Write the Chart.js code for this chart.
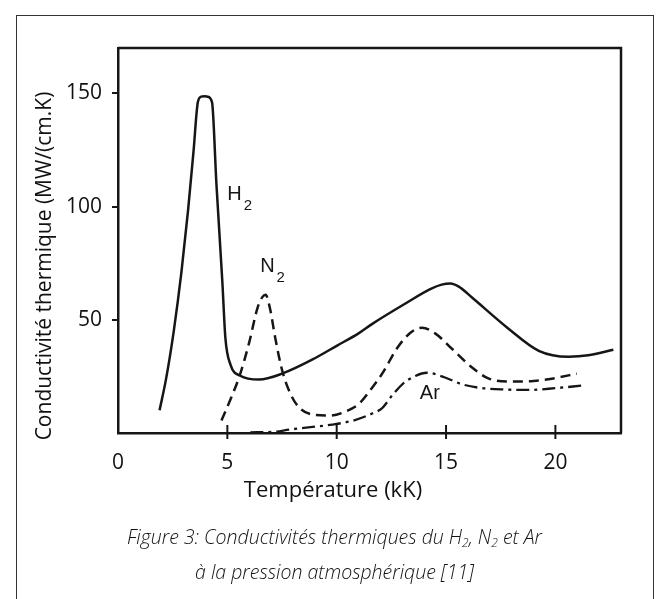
<!DOCTYPE html>
<html>
<head>
<meta charset="utf-8">
<script src="https://cdn.jsdelivr.net/npm/chart.js@4.4.1/dist/chart.umd.min.js"></script>
<style>
  body { margin: 0; background: #fff; }
  #cadre { position: absolute; left: 16px; top: 15px; width: 636px; height: 640px; border: 1px solid #333; }
  #graphe { position: absolute; left: 0; top: 0; }
  #legende { position: absolute; left: 16px; width: 637px; top: 519px; text-align: center;
    font-family: "Open Sans", sans-serif; font-style: italic; font-weight: 300; font-size: 19.5px;
    line-height: 35px; color: #111; }
  #legende sub { font-size: 12px; vertical-align: -3px; line-height: 0; }
</style>
</head>
<body>
<div id="cadre"></div>
<canvas id="graphe" width="658" height="599"></canvas>
<div id="legende">Figure 3: Conductivités thermiques du H<sub>2</sub>, N<sub>2</sub> et Ar<br>à la pression atmosphérique [11]</div>

<script>
// Temperatures (kK) et conductivites (MW/(cm.K))
var h2Temp = [1.9, 2.2, 2.55, 2.9, 3.2, 3.45, 3.65, 3.8, 3.95, 4.1, 4.3, 4.5, 4.77, 4.91, 5.15, 5.59, 6.45, 7.5, 9, 10, 11, 11.63, 13.2, 14.3, 14.8, 15.2, 15.6, 16.2, 17.8, 19.24, 20.6, 21.5, 22.65];
var h2Cond = [10, 24, 45, 71, 98, 124, 146, 148.5, 148.7, 148.5, 146, 110, 67, 42, 30, 25.3, 23.6, 26.2, 33, 38.5, 44, 48.2, 57.5, 63.6, 65.5, 66, 64.5, 59.7, 46.5, 36.3, 33.7, 34.3, 36.8];

var n2Temp = [4.73, 5.15, 5.55, 6.0, 6.38, 6.6, 6.75, 6.95, 7.19, 7.51, 7.9, 8.29, 9.0, 9.7, 10.4, 11.03, 11.62, 12.08, 12.8, 13.4, 13.9, 14.5, 15.27, 16.19, 16.96, 18.0, 19.0, 19.84, 20.98];
var n2Cond = [5.5, 15, 25, 40, 55.3, 60, 61, 55, 42, 27.5, 17, 11.2, 8, 7.7, 9.5, 13, 20, 26.2, 38, 44.5, 46.5, 44, 37.2, 28.9, 24, 22.7, 23, 24, 26.2];

var arTemp = [6.05, 7.1, 7.83, 8.8, 9.79, 10.8, 11.62, 12.08, 12.53, 13.0, 13.6, 14.13, 14.95, 15.7, 16.5, 17.7, 18.8, 20.0, 21.2];
var arCond = [0.3, 0.5, 1.5, 2.6, 3.7, 5.6, 8.6, 11, 16.5, 21.5, 25.2, 26.6, 24.5, 21.6, 20, 19.2, 19, 19.8, 20.9];

var xTicks = [0, 5, 10, 15, 20];
var yTicks = [50, 100, 150];

// etiquettes des courbes (position en kK, conductivite)
var etiquettes = [
  { nom: "H", indice: "2", x: 5.0, y: 103 },
  { nom: "N", indice: "2", x: 6.5, y: 71 },
  { nom: "Ar", indice: "", x: 13.8, y: 15 }
];

function points(xs, ys) {
  return xs.map(function(x, i) { return { x: x, y: ys[i] }; });
}

var encre = "#161616";

var cadrePlot = {
  id: "cadrePlot",
  afterDraw: function(chart) {
    var c = chart.ctx, a = chart.chartArea;
    var sx = chart.scales.x, sy = chart.scales.y;
    c.save();
    c.strokeStyle = encre;
    c.lineWidth = 2.5;
    c.beginPath();
    c.moveTo(a.left, a.top);
    c.lineTo(a.right, a.top);
    c.lineTo(a.right, a.bottom);
    c.stroke();
    // petites graduations qui traversent l'axe des x
    c.lineWidth = 2;
    xTicks.forEach(function(v) {
      if (v === 0) return;
      var px = sx.getPixelForValue(v);
      c.beginPath();
      c.moveTo(px, a.bottom - 8);
      c.lineTo(px, a.bottom + 6);
      c.stroke();
    });
    // noms des courbes
    c.fillStyle = encre;
    c.textBaseline = "alphabetic";
    etiquettes.forEach(function(e) {
      var px = sx.getPixelForValue(e.x), py = sy.getPixelForValue(e.y);
      c.font = "20px 'Liberation Sans'";
      c.fillText(e.nom, px, py);
      if (e.indice) {
        var w = c.measureText(e.nom).width;
        c.font = "15px 'Liberation Sans'";
        c.fillText(e.indice, px + w + 2, py + 10);
      }
    });
    // titres des axes
    c.fillStyle = "#111";
    c.textAlign = "center";
    c.textBaseline = "middle";
    c.font = "22px 'Open Sans'";
    c.fillText("Température (kK)", 333, 491);
    c.font = "21px 'Open Sans'";
    c.translate(45, 266);
    c.rotate(-Math.PI / 2);
    c.fillText("Conductivité thermique (MW/(cm.K)", 0, 0);
    c.restore();
  }
};

var ctx = document.getElementById("graphe").getContext("2d");
var graphe = new Chart(ctx, {
  type: "line",
  data: {
    datasets: [
      { label: "H2", data: points(h2Temp, h2Cond), borderColor: encre, borderWidth: 2.5, pointRadius: 0, cubicInterpolationMode: "monotone", fill: false },
      { label: "N2", data: points(n2Temp, n2Cond), borderColor: encre, borderWidth: 2.5, borderDash: [10, 6], pointRadius: 0, cubicInterpolationMode: "monotone", fill: false },
      { label: "Ar", data: points(arTemp, arCond), borderColor: encre, borderWidth: 2.3, borderDash: [13, 5, 3, 5], pointRadius: 0, cubicInterpolationMode: "monotone", fill: false }
    ]
  },
  options: {
    responsive: false,
    animation: false,
    layout: { padding: { left: 0, top: 48, right: 37, bottom: 0 } },
    plugins: { legend: { display: false }, tooltip: { enabled: false } },
    scales: {
      x: {
        type: "linear",
        min: 0,
        max: 23,
        afterBuildTicks: function(s) { s.ticks = xTicks.map(function(v) { return { value: v }; }); },
        afterFit: function(s) { s.height = 599 - 433; },
        grid: { display: false },
        border: { display: true, color: encre, width: 2.5 },
        ticks: { color: "#111", font: { family: "Open Sans", size: 21 }, padding: 9, maxRotation: 0 }
      },
      y: {
        min: 0,
        max: 170,
        afterBuildTicks: function(s) { s.ticks = yTicks.map(function(v) { return { value: v }; }); },
        afterFit: function(s) { s.width = 118; },
        grid: { drawOnChartArea: false, tickLength: 6, color: encre, lineWidth: 2 },
        border: { display: true, color: encre, width: 2.5 },
        ticks: { color: "#111", font: { family: "Open Sans", size: 21 }, padding: 10 }
      }
    }
  },
  plugins: [cadrePlot]
});
</script>
</body>
</html>
